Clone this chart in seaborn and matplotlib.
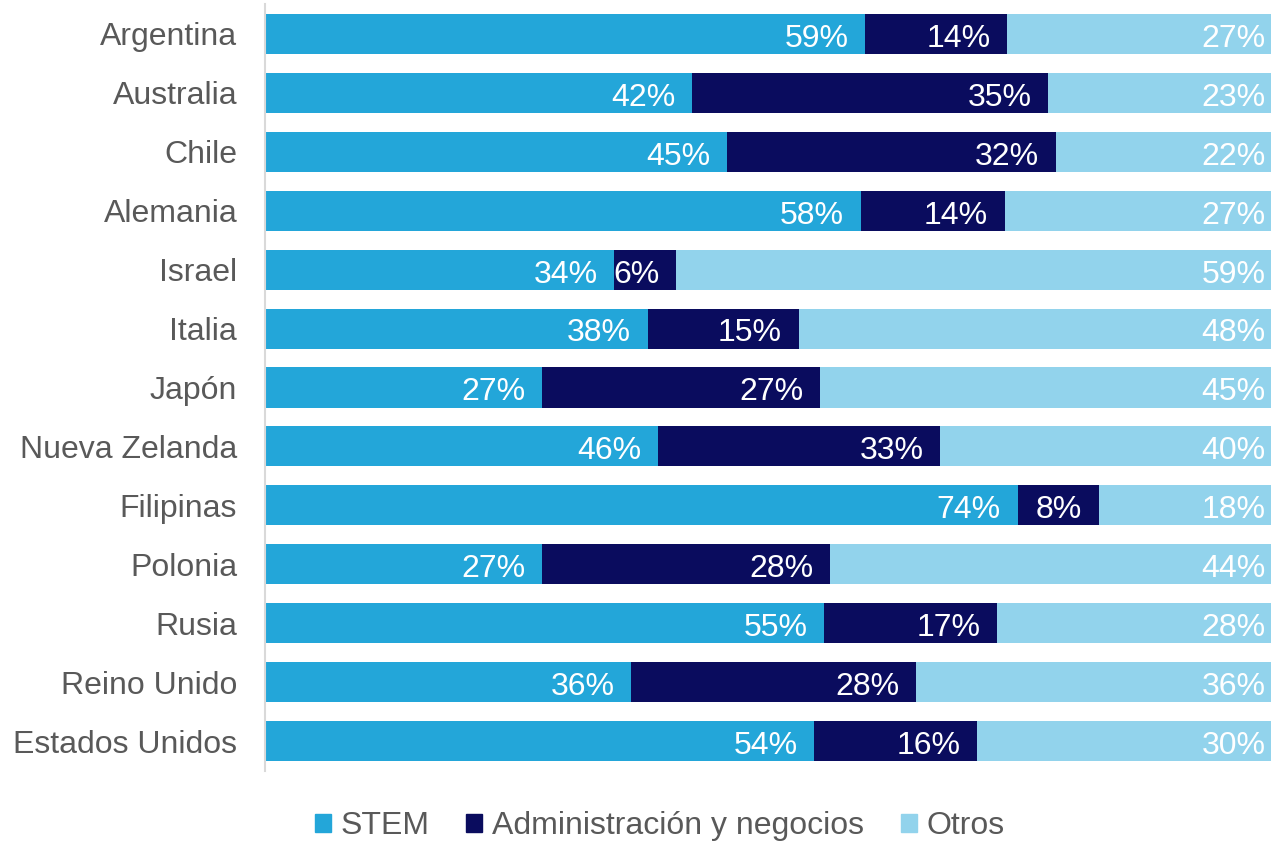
import numpy as np
import pandas as pd
import seaborn as sns
import matplotlib.pyplot as plt

paises = ["Argentina", "Australia", "Chile", "Alemania", "Israel", "Italia", "Japón",
          "Nueva Zelanda", "Filipinas", "Polonia", "Rusia", "Reino Unido", "Estados Unidos"]
stem = [59, 42, 45, 58, 34, 38, 27, 46, 74, 27, 55, 36, 54]
admin = [14, 35, 32, 14, 6, 15, 27, 33, 8, 28, 17, 28, 16]
otros = [27, 23, 22, 27, 59, 48, 45, 40, 18, 44, 28, 36, 30]

series = ["STEM", "Administración y negocios", "Otros"]
colores = ["#23A6D9", "#0A0C5E", "#92D3EC"]

sns.set_style("white")
plt.rcParams['font.family'] = ['Liberation Sans', 'DejaVu Sans']

df = pd.DataFrame({"pais": paises, "STEM": stem, "Admin": admin, "Otros": otros})
total = df[["STEM", "Admin", "Otros"]].sum(axis=1)
# barras al 100%
for c in ["STEM", "Admin", "Otros"]:
    df[c + "_n"] = df[c] / total * 100
df["c1"] = df["STEM_n"]
df["c2"] = df["STEM_n"] + df["Admin_n"]
df["c3"] = df["c2"] + df["Otros_n"]

fig = plt.figure(figsize=(12.71, 8.43), dpi=100)
ax = fig.add_axes([265 / 1271, 1 - 770.5 / 843, 1017 / 1271, 766 / 843])

# apilado: primero la barra total, luego las acumuladas encima
for col, color in zip(["c3", "c2", "c1"], colores[::-1]):
    sns.barplot(data=df, x=col, y="pais", color=color, width=0.68, ax=ax,
                saturation=1, edgecolor="none")

ax.set_xlim(0, 100)
ax.set_ylim(len(paises) - 0.5, -0.5)
ax.set_xlabel("")
ax.set_ylabel("")
ax.set_xticks([])
ax.tick_params(axis="y", length=0, pad=20, labelsize=23, labelcolor="#595959")
for s in ["top", "right", "bottom"]:
    ax.spines[s].set_visible(False)
ax.spines["left"].set_color("#D9D9D9")
ax.spines["left"].set_linewidth(1.5)

# etiquetas de porcentaje en el extremo interior de cada segmento
for i, row in df.iterrows():
    for val, fin in [(row["STEM"], row["c1"]), (row["Admin"], row["c2"]), (row["Otros"], row["c3"])]:
        ax.annotate(f"{val}%", xy=(fin, i), xytext=(-12, -1), textcoords="offset points",
                    ha="right", va="center_baseline", color="white", fontsize=23)

handles = [plt.Rectangle((0, 0), 1, 1, color=c) for c in colores]
fig.legend(handles, series, loc="center", bbox_to_anchor=(0.519, 1 - 826 / 843), ncol=3,
           frameon=False, fontsize=23, handlelength=0.5, handleheight=0.5,
           handletextpad=0.3, columnspacing=1.15, labelcolor="#595959")

fig.savefig("out.png", dpi=100)
